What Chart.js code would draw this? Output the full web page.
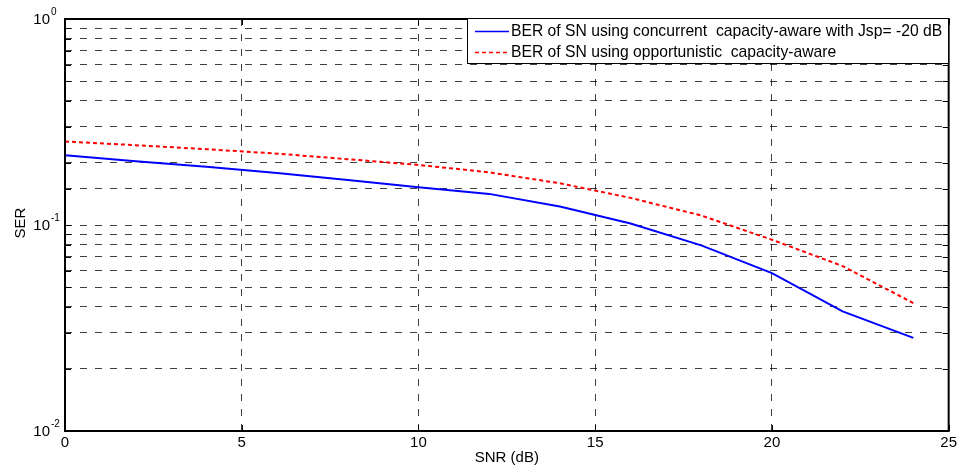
<!DOCTYPE html>
<html><head><meta charset="utf-8">
<script src="https://cdn.jsdelivr.net/npm/chart.js@4.4.1/dist/chart.umd.min.js"></script>
<style>html,body{margin:0;padding:0;background:#fff;}canvas{display:block;}</style>
</head><body>
<canvas id="c" width="960" height="475"></canvas>
<script>
// ---- data ----
const snr = [0, 2, 4, 6, 8, 10, 12, 14, 16, 18, 20, 22, 24];
const berConcurrent = [0.2178, 0.2041, 0.1920, 0.1786, 0.1652, 0.1524, 0.1416, 0.1229, 0.1017, 0.0796, 0.0584, 0.0381, 0.0283];
const berOpportunistic = [0.2545, 0.2440, 0.2334, 0.2220, 0.2087, 0.1957, 0.1802, 0.1594, 0.1354, 0.1112, 0.0848, 0.0632, 0.0418];
const seriesLabels = ['BER of SN using concurrent  capacity-aware with Jsp= -20 dB', 'BER of SN using opportunistic  capacity-aware'];
const xTickValues = [0, 5, 10, 15, 20, 25];
const yDecadeValues = [0.01, 0.1, 1];
const yDecadeExponents = ['-2', '-1', '0'];
const xTitle = 'SNR (dB)';
const yTitle = 'SER';

const FONT = '"Liberation Sans", Arial, sans-serif';

const decor = {
  id: 'decor',
  afterDraw(chart) {
    const {ctx, chartArea: a, scales: {x, y}} = chart;
    const L = a.left, R = a.right, T = a.top, B = a.bottom;
    const tl = 6;
    ctx.save();
    ctx.setLineDash([]);
    ctx.strokeStyle = '#000';
    ctx.lineWidth = 1;
    ctx.beginPath();
    y.ticks.forEach(t => {
      const py = Math.round(y.getPixelForValue(t.value)) + 0.5;
      ctx.moveTo(L, py); ctx.lineTo(L + tl, py);
      ctx.moveTo(R, py); ctx.lineTo(R - tl, py);
    });
    xTickValues.forEach(v => {
      const px = Math.round(x.getPixelForValue(v)) + 0.5;
      ctx.moveTo(px, B); ctx.lineTo(px, B - tl);
      ctx.moveTo(px, T); ctx.lineTo(px, T + tl);
    });
    ctx.stroke();
    // box
    ctx.lineWidth = 2;
    ctx.strokeRect(L, T, R - L, B - T);

    // y decade labels
    ctx.fillStyle = '#000';
    yDecadeValues.forEach((v, i) => {
      const py = y.getPixelForValue(v);
      ctx.font = '15px ' + FONT;
      ctx.textAlign = 'right';
      ctx.textBaseline = 'middle';
      ctx.fillText('10', 50, py + 1);
      ctx.font = '10px ' + FONT;
      ctx.textAlign = 'left';
      ctx.fillText(yDecadeExponents[i], 51, py - 7);
    });

    // axis titles
    ctx.font = '15px ' + FONT;
    ctx.textAlign = 'center';
    ctx.textBaseline = 'middle';
    ctx.fillText(xTitle, (L + R) / 2, 458);
    ctx.save();
    ctx.translate(21, (T + B) / 2 - 2);
    ctx.rotate(-Math.PI / 2);
    ctx.fillText(yTitle, 0, 0);
    ctx.restore();

    // legend
    const lx = 467.5, ly = 18.5, lw = 948.5 - 467.5, lh = 45;
    ctx.fillStyle = '#fff';
    ctx.fillRect(lx, ly, lw, lh);
    ctx.strokeStyle = '#000';
    ctx.lineWidth = 1;
    ctx.strokeRect(lx, ly, lw, lh);
    const rows = [31, 52];
    chart.data.datasets.forEach((ds, i) => {
      const ry = rows[i] + 0.5;
      ctx.strokeStyle = ds.borderColor;
      ctx.lineWidth = 1.5;
      ctx.setLineDash(ds.borderDash || []);
      ctx.beginPath();
      ctx.moveTo(475, ry); ctx.lineTo(509, ry);
      ctx.stroke();
      ctx.setLineDash([]);
      ctx.fillStyle = '#000';
      ctx.font = '15.7px ' + FONT;
      ctx.textAlign = 'left';
      ctx.textBaseline = 'middle';
      ctx.fillText(ds.label, 511, rows[i] + 1);
    });
    ctx.restore();
  }
};

new Chart(document.getElementById('c'), {
  type: 'line',
  data: {
    datasets: [
      {
        label: seriesLabels[0],
        data: snr.map((s, i) => ({x: s, y: berConcurrent[i]})),
        borderColor: 'rgb(0,0,255)',
        borderWidth: 2,
        pointRadius: 0,
        tension: 0,
        fill: false
      },
      {
        label: seriesLabels[1],
        data: snr.map((s, i) => ({x: s, y: berOpportunistic[i]})),
        borderColor: 'rgb(255,0,0)',
        borderWidth: 2,
        borderDash: [4, 3],
        pointRadius: 0,
        tension: 0,
        fill: false
      }
    ]
  },
  options: {
    responsive: false,
    animation: false,
    layout: {padding: {left: 0, right: 11, top: 19, bottom: 0}},
    plugins: {legend: {display: false}, tooltip: {enabled: false}},
    scales: {
      x: {
        type: 'linear',
        min: 0, max: 25,
        afterFit(s) { s.height = 44; },
        afterBuildTicks(s) { s.ticks = xTickValues.map(v => ({value: v})); },
        ticks: {
          padding: 3,
          color: '#000',
          font: {family: FONT, size: 15},
          maxRotation: 0,
          autoSkip: false
        },
        grid: {color: 'rgba(0,0,0,0.75)', lineWidth: 1, drawTicks: false},
        border: {display: false, dash: [7, 8]}
      },
      y: {
        type: 'logarithmic',
        min: 0.01, max: 1,
        afterFit(s) { s.width = 65; },
        ticks: {display: false},
        grid: {color: 'rgba(0,0,0,0.75)', lineWidth: 1, drawTicks: false},
        border: {display: false, dash: [7, 8]}
      }
    }
  },
  plugins: [decor]
});
</script>
</body></html>
